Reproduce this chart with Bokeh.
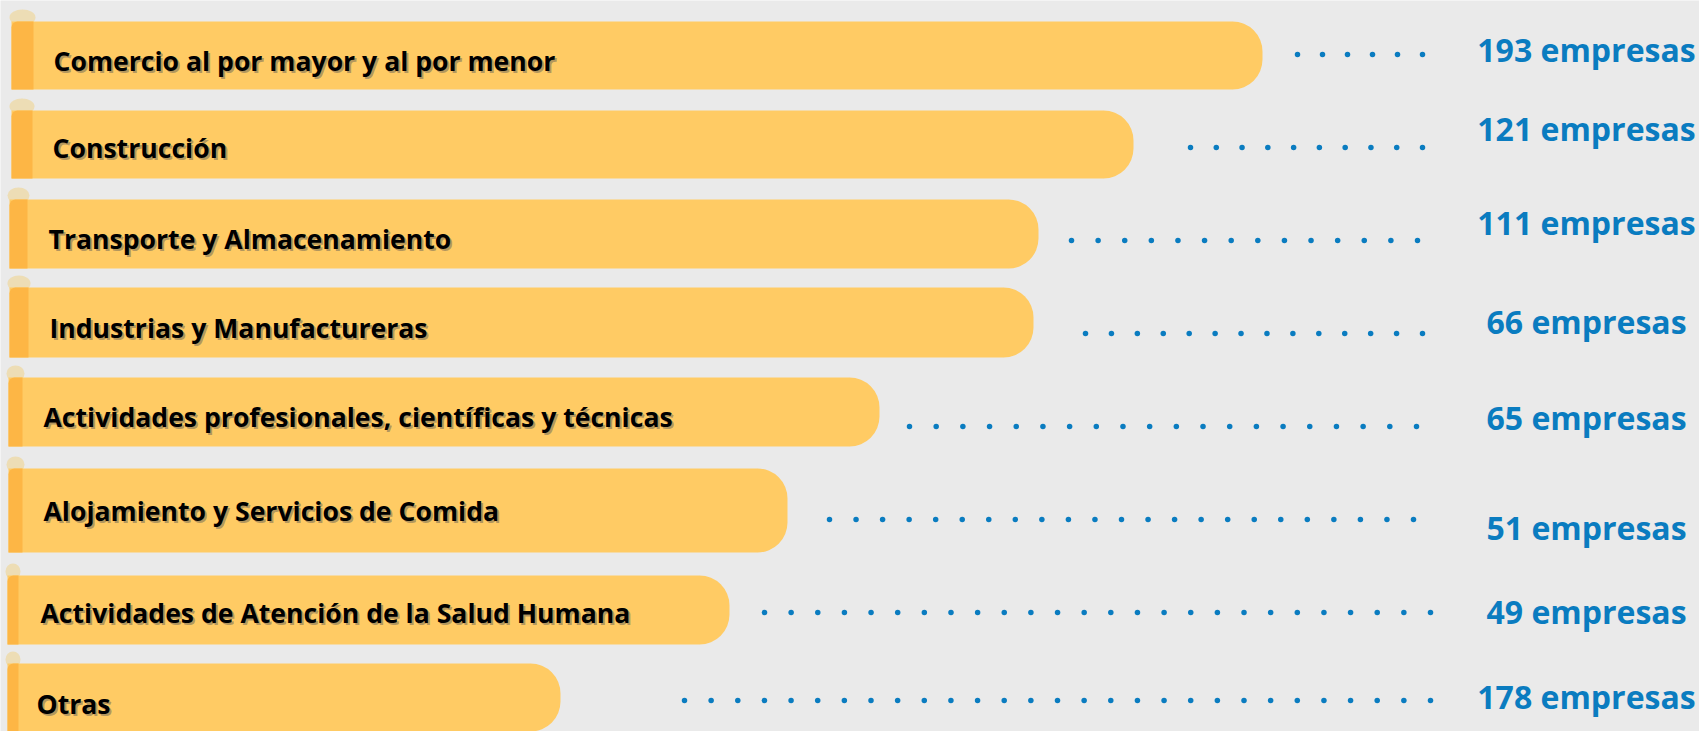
import numpy as np
from bokeh.plotting import figure
from bokeh.models import Range1d, ColumnDataSource
from bokeh.core.properties import value
from bokeh.embed import file_html
from bokeh.resources import INLINE

# ---- data ----
categories = [
    "Comercio al por mayor y al por menor",
    "Construcción",
    "Transporte y Almacenamiento",
    "Industrias y Manufactureras",
    "Actividades profesionales, científicas y técnicas",
    "Alojamiento y Servicios de Comida",
    "Actividades de Atención de la Salud Humana",
    "Otras",
]
empresas = [193, 121, 111, 66, 65, 51, 49, 178]
# visual bar extent as drawn in the infographic (chart units)
bar_extent = [1262, 1133, 1038, 1033, 879, 787, 729, 560]

# ---- layout (screen-like units, y grows downward) ----
W, H = 1699, 731
row_top = [21, 110, 199, 287, 377, 468, 575, 663]
row_bottom = [89, 178, 268, 357, 446, 552, 644, 731]
bar_left = [11, 11, 9, 9, 8, 8, 7, 7]
strip_right = [33, 32, 27, 28, 22, 22, 18, 18]
label_x = [53, 52, 48, 49, 43, 43, 40, 36]
label_base = [60, 147, 238, 327, 416, 510, 612, 703]
value_center_x = 1586
value_base = [49, 128, 222, 321, 417, 527, 611, 696]
dot_y = [54, 147, 240, 333, 426, 519, 612, 700]
dot_start = [1297, 1190, 1071, 1085, 909, 829, 764, 684]
dot_end = [1422, 1422, 1417, 1422, 1416, 1413, 1430, 1430]
dot_count = [6, 10, 14, 14, 20, 23, 26, 29]

BG = "#EAEAEA"
BAR = "#FFCB64"
STRIP = "#FDB645"
CURL = "#EED9A8"
BLUE = "#0A7CC0"

p = figure(width=W, height=H, output_backend="svg", toolbar_location=None,
           x_range=Range1d(0, W), y_range=Range1d(H, 0),
           min_border=0, background_fill_color=BG, border_fill_color=BG,
           outline_line_color=None)
p.axis.visible = False
p.xgrid.visible = False
p.ygrid.visible = False

src = ColumnDataSource(dict(
    left=bar_left, right=bar_extent, top=row_top, bottom=row_bottom,
    sright=strip_right,
    cx=[(a + b) / 2 for a, b in zip(bar_left, strip_right)],
    cy=[t - 4 for t in row_top],
    cw=[(b - a) + 4 for a, b in zip(bar_left, strip_right)],
))

# curl above each bar's left end
p.ellipse(x="cx", y="cy", width="cw", height=16, source=src,
          fill_color=CURL, line_color=None, fill_alpha=0.8)
# main bars with rounded right end
p.quad(left="left", right="right", top="top", bottom="bottom", source=src,
       fill_color=BAR, line_color=None, border_radius=(0, 30, 30, 0))
# darker folded strip on the left
p.quad(left="left", right="sright", top="top", bottom="bottom", source=src,
       fill_color=STRIP, line_color=None, border_radius=(6, 0, 0, 0))

# category labels with soft shadow
lab = ColumnDataSource(dict(x=label_x, y=label_base, t=categories,
                            sx=[v + 2 for v in label_x], sy=[v + 2 for v in label_base]))
p.text(x="sx", y="sy", text="t", source=lab, text_font=value("Open Sans"),
       text_font_style="bold", text_font_size="26.6px", text_color="#555555",
       text_alpha=0.45, text_baseline="alphabetic", text_align="left")
p.text(x="x", y="y", text="t", source=lab, text_font=value("Open Sans"),
       text_font_style="bold", text_font_size="26.6px", text_color="#000000",
       text_baseline="alphabetic", text_align="left")

# dotted leaders
dx, dy = [], []
for s, e, n, y in zip(dot_start, dot_end, dot_count, dot_y):
    xs = np.linspace(s, e, n)
    dx.extend(xs.tolist())
    dy.extend([y] * n)
p.scatter(x=dx, y=dy, size=5.5, marker="circle", fill_color=BLUE, line_color=None)

# value labels
vals = ColumnDataSource(dict(x=[value_center_x] * len(empresas), y=value_base,
                             t=[f"{n} empresas" for n in empresas]))
p.text(x="x", y="y", text="t", source=vals, text_font=value("Open Sans"),
       text_font_style="bold", text_font_size="32px", text_color=BLUE,
       text_baseline="alphabetic", text_align="center")

open("out.html", "w").write(file_html(p, INLINE))
